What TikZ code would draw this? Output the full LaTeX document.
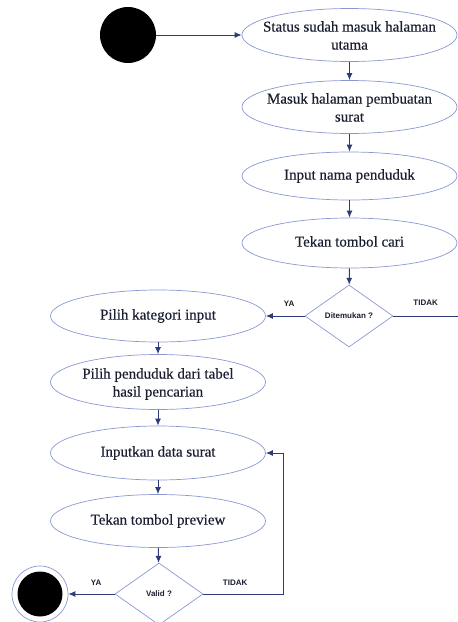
\documentclass[tikz,border=0pt]{standalone}
\usepackage{fontspec}
\setmainfont{Liberation Serif}[FakeBold=0.4]
\setsansfont{Liberation Sans}
\usetikzlibrary{shapes.geometric,arrows.meta}
\definecolor{edgeblue}{HTML}{8A98D2}
\definecolor{flow}{HTML}{2E3B78}
\definecolor{inkc}{HTML}{1A1E30}
% centred text of zero width, so the ellipse keeps its own fixed size
\newcommand{\acttxt}[1]{\makebox[0pt]{\begin{tabular}{@{}c@{}}#1\end{tabular}}}
\tikzset{
  act/.style={ellipse, draw=edgeblue, line width=0.7pt, minimum width=215pt,
    minimum height=53pt, inner sep=0pt, text=inkc,
    font=\fontsize{15}{18}\selectfont},
  choice/.style={diamond, draw=edgeblue, line width=0.7pt, minimum width=88pt,
    minimum height=62pt, inner sep=0pt, aspect=1.42, text=inkc,
    font=\sffamily\bfseries\fontsize{8}{9}\selectfont},
  flowline/.style={draw=flow, line width=1pt, -{Latex[length=7pt,width=6pt]}},
  guard/.style={text=inkc, font=\sffamily\bfseries\fontsize{8}{9}\selectfont},
}
\begin{document}
\begin{tikzpicture}[x=1pt, y=-1pt]
\useasboundingbox (0,0) rectangle (458,622);

% start state
\node[circle, fill=black, minimum size=56pt, inner sep=0pt] (start) at (128,35) {};

% upper column of activities
\node[act] (a1) at (349.5,35) {};
\node[text=inkc, font=\fontsize{15}{18}\selectfont] (a1t) at (349.5,37) {\acttxt{Status sudah masuk halaman\\utama}};
\node[act] (a2) at (349.5,107) {};
\node[text=inkc, font=\fontsize{15}{18}\selectfont] (a2t) at (349.5,109) {\acttxt{Masuk halaman pembuatan\\surat}};
\node[act, minimum height=48pt] (a3) at (349.5,176) {\acttxt{Input nama penduduk}};
\node[act, minimum height=50pt] (a4) at (349.5,243) {\acttxt{Tekan tombol cari}};
\node[choice] (d1) at (349,316) {Ditemukan ?};

% lower column of activities
\node[act, minimum height=52pt] (b1) at (158,316) {\acttxt{Pilih kategori input}};
\node[act, minimum height=55pt] (b2) at (158,382) {};
\node[text=inkc, font=\fontsize{15}{18}\selectfont] (b2t) at (158,384) {\acttxt{Pilih penduduk dari tabel\\hasil pencarian}};
\node[act, minimum height=54pt] (b3) at (158,453) {\acttxt{Inputkan data surat}};
\node[act, minimum height=53pt] (b4) at (158,521) {\acttxt{Tekan tombol preview}};
\node[choice] (d2) at (159,594) {Valid ?};

% final state
\node[circle, draw=edgeblue, line width=0.7pt, minimum size=56pt, inner sep=0pt] (stop) at (40,594) {};
\node[circle, fill=black, minimum size=45pt, inner sep=0pt] (stopdot) at (40,594) {};

\coordinate (off) at (458,316);
\coordinate (back) at (283,594);

% flow
\draw[flowline] (start) -- (a1);
\draw[flowline] (a1) -- (a2);
\draw[flowline] (a2) -- (a3);
\draw[flowline] (a3) -- (a4);
\draw[flowline] (a4) -- (d1);
\draw[flowline] (d1) -- node[guard, above=6pt, pos=0.4] {YA} (b1);
\draw[draw=flow, line width=1pt] (d1) -- node[guard, above=7pt] {TIDAK} (off);
\draw[flowline] (b1) -- (b2);
\draw[flowline] (b2) -- (b3);
\draw[flowline] (b3) -- (b4);
\draw[flowline] (b4) -- (d2);
\draw[flowline] (d2) -- node[guard, above=5pt, pos=0.4] {YA} (stop);
\draw[flowline] (d2) -- node[guard, above=5pt, pos=0.4] {TIDAK} (back) |- (b3);
\end{tikzpicture}
\end{document}
